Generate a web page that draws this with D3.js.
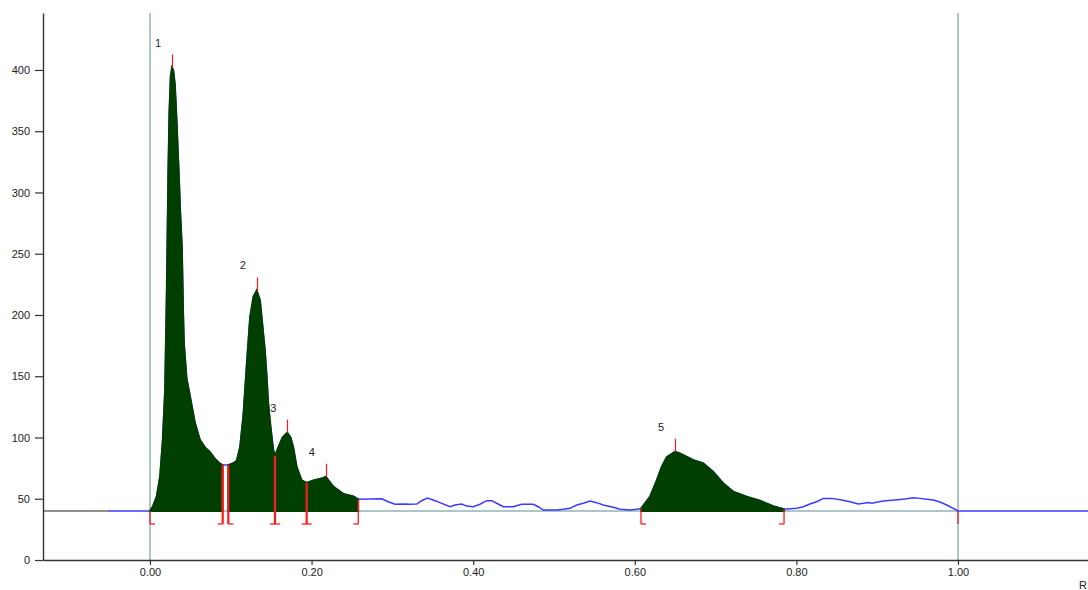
<!DOCTYPE html>
<html>
<head>
<meta charset="utf-8">
<script src="https://cdn.jsdelivr.net/npm/d3@7"></script>
<style>
  body { margin: 0; padding: 0; background: #fff; }
  svg { display: block; font-family: "Liberation Sans", Arial, sans-serif; }
</style>
</head>
<body>
<script>
// densitometer trace: Rf position and signal value
const traceRf = [
  -0.052, 0, 0.0037, 0.0083, 0.0124, 0.0157, 0.0186, 0.0207, 0.0226, 0.0239, 0.0256,
  0.0272, 0.0288, 0.0309, 0.0330, 0.0347, 0.0359, 0.0375, 0.0396, 0.0412, 0.0421,
  0.0454, 0.0495, 0.0557, 0.0619, 0.0680, 0.0743, 0.0800, 0.0860, 0.0900, 0.0969,
  0.1031, 0.1073, 0.1114,
  0.1155, 0.1197, 0.1238, 0.1280, 0.1321, 0.1362, 0.1383, 0.1423, 0.1445, 0.1464, 0.1494,
  0.1526, 0.1547, 0.1588, 0.1640, 0.1699, 0.1740, 0.1774, 0.1816, 0.1877, 0.1939,
  0.2021, 0.2145, 0.2175, 0.2269, 0.2392, 0.2516, 0.2578,
  0.2868, 0.2949, 0.3032, 0.3135, 0.3218, 0.3301, 0.3363, 0.3432, 0.3506, 0.3589,
  0.3713, 0.3775, 0.3858, 0.3920, 0.4001, 0.4084, 0.4167, 0.4229, 0.4291, 0.4373,
  0.4496, 0.4600, 0.4744, 0.4806, 0.4868, 0.5033, 0.5115, 0.5198, 0.5281, 0.5363,
  0.5446, 0.5528, 0.5610, 0.5734, 0.5817, 0.5941, 0.6023, 0.6077,
  0.6188, 0.6271, 0.6333, 0.6395, 0.6498, 0.6559, 0.6724, 0.6848, 0.6972, 0.7095,
  0.7219, 0.7385, 0.7550, 0.7714, 0.7847,
  0.8004, 0.8085, 0.8168, 0.8251, 0.8333, 0.8437, 0.8561, 0.8663, 0.8766, 0.8828,
  0.8890, 0.8932, 0.9075, 0.9220, 0.9344, 0.9447, 0.9530, 0.9613, 0.9694, 0.9777,
  0.9860, 0.9942, 1.0, 1.161
];
const traceVal = [
  40, 40, 44, 52, 68, 98, 139, 220, 316, 365, 395,
  402, 400, 388, 359, 332, 313, 284, 255, 200, 177,
  148, 134, 112, 98, 92, 88, 83, 79, 77.5, 77.5,
  79, 81, 92,
  118, 160, 198, 215, 220, 212, 198, 171, 150, 128, 108,
  90, 85, 92, 100, 104, 100, 92, 76, 65, 63,
  65, 67, 68, 60, 54, 52, 49.5,
  50, 47.6, 45.5, 45.7, 45.5, 45.7, 48.4, 50.6, 49, 46.8,
  43.5, 44.9, 45.7, 44, 43.5, 45.5, 48.4, 48.4, 46.3, 43.5,
  43.5, 45.5, 45.5, 43.5, 40.8, 40.8, 41.4, 42.2, 44.9, 46.3,
  48.2, 46.8, 44.9, 43, 41.4, 40.8, 41.4, 42,
  51.7, 65, 76, 84, 88.4, 87, 81.6, 79, 72, 62.6,
  55.8, 51.7, 48.4, 44, 41.4,
  42.2, 43.5, 45.7, 47.6, 50.3, 50.3, 49, 47.6, 45.7, 46.3,
  47, 46.3, 48.2, 49, 49.8, 50.9, 50.3, 49.6, 49, 47.3,
  44.9, 42.2, 40, 40
];

const baseline = 40;

// integrated peak zones [start, end]
const zones = [[0, 0.0900], [0.0969, 0.2578], [0.6077, 0.7847]];

// zone boundary marks: Rf, signal at mark, foot side
const markRf   = [0, 0.0900, 0.0969, 0.1547, 0.1939, 0.2578, 0.6077, 0.7847, 1.0];
const markVal  = [40, 77.5, 77.5, 85, 63, 49.5, 42, 41.4, 40];
const markFoot = ["right", "left", "right", "both", "both", "left", "right", "left", "none"];

// peak apex marks
const peakLabels = ["1", "2", "3", "4", "5"];
const peakRf     = [0.0272, 0.1321, 0.1699, 0.2175, 0.6498];
const peakVal    = [402, 220, 104, 68, 88.4];

const yTicks = [0, 50, 100, 150, 200, 250, 300, 350, 400];
const xTicks = [0, 0.2, 0.4, 0.6, 0.8, 1.0];

const width = 1088, height = 590;

const x = d3.scaleLinear().domain([-0.1324, 1.1609]).range([43, 1088]);
const y = d3.scaleLinear().domain([0, 446.5]).range([560, 13]);

const data = traceRf.map((r, i) => ({ rf: r, v: traceVal[i] }));

const svg = d3.select("body").append("svg")
  .attr("width", width)
  .attr("height", height);

const teal = "#8fb4b4";

// origin / front lines
svg.append("g")
  .selectAll("line")
  .data([0, 1])
  .join("line")
    .attr("x1", d => x(d)).attr("x2", d => x(d))
    .attr("y1", y.range()[1]).attr("y2", y(0))
    .attr("stroke", teal)
    .attr("stroke-width", 1.5);

// baseline
svg.append("line")
  .attr("x1", x(0)).attr("x2", x(1))
  .attr("y1", y(baseline)).attr("y2", y(baseline))
  .attr("stroke", teal)
  .attr("stroke-width", 1.5);

svg.append("line")
  .attr("x1", x.range()[0]).attr("x2", x(traceRf[0]))
  .attr("y1", y(baseline)).attr("y2", y(baseline))
  .attr("stroke", "#222")
  .attr("stroke-width", 1.2);

// trace
const line = d3.line().x(d => x(d.rf)).y(d => y(d.v));
svg.append("path")
  .datum(data)
  .attr("d", line)
  .attr("fill", "none")
  .attr("stroke", "#3b3bff")
  .attr("stroke-width", 1.5);

// filled peak zones
const area = d3.area()
  .x(d => x(d.rf))
  .y0(y(baseline))
  .y1(d => y(d.v));

svg.append("g")
  .selectAll("path")
  .data(zones)
  .join("path")
    .attr("d", z => area(data.filter(d => d.rf >= z[0] - 1e-6 && d.rf <= z[1] + 1e-6)))
    .attr("fill", "#003f00")
    .attr("stroke", "#003f00")
    .attr("stroke-width", 1.8);

// zone boundary marks
const markG = svg.append("g").attr("stroke", "#ff1a1a").attr("fill", "none");
const footLen = 5, dropPx = 13;
markRf.forEach((r, i) => {
  const px = x(r);
  const yb = y(baseline) + dropPx;
  const inner = i > 0 && i < markRf.length - 1 && markFoot[i] !== "none";
  const sw = (markFoot[i] === "both" || (inner && (i === 1 || i === 2))) ? 2.2 : 1.3;
  markG.append("line")
    .attr("x1", px).attr("x2", px)
    .attr("y1", y(markVal[i])).attr("y2", yb)
    .attr("stroke-width", sw);
  const f = markFoot[i];
  if (f === "right" || f === "both")
    markG.append("line").attr("x1", px).attr("x2", px + footLen)
      .attr("y1", yb).attr("y2", yb).attr("stroke-width", 1.3);
  if (f === "left" || f === "both")
    markG.append("line").attr("x1", px - footLen).attr("x2", px)
      .attr("y1", yb).attr("y2", yb).attr("stroke-width", 1.3);
});

// apex ticks and labels
svg.append("g")
  .selectAll("line")
  .data(peakRf)
  .join("line")
    .attr("x1", d => Math.round(x(d)) + 0.5).attr("x2", d => Math.round(x(d)) + 0.5)
    .attr("y1", (d, i) => y(peakVal[i]))
    .attr("y2", (d, i) => y(peakVal[i]) - 13)
    .attr("stroke", "#ff1a1a")
    .attr("stroke-width", 1.2);

svg.append("g")
  .selectAll("text")
  .data(peakLabels)
  .join("text")
    .attr("x", (d, i) => x(peakRf[i]) - 14)
    .attr("y", (d, i) => y(peakVal[i]) - 21)
    .attr("text-anchor", "middle")
    .attr("font-size", 11)
    .attr("fill", "#222")
    .text(d => d);

// axes
const yAxis = d3.axisLeft(y)
  .tickValues(yTicks)
  .tickSize(8)
  .tickSizeOuter(0)
  .tickPadding(5);

const xAxis = d3.axisBottom(x)
  .tickValues(xTicks)
  .tickFormat(d3.format(".2f"))
  .tickSize(5)
  .tickSizeOuter(0)
  .tickPadding(3);

const gy = svg.append("g")
  .attr("transform", `translate(${x.range()[0]},0)`)
  .call(yAxis);

const gx = svg.append("g")
  .attr("transform", `translate(0,${y(0)})`)
  .call(xAxis);

[gx, gy].forEach(g => {
  g.select(".domain").attr("stroke", "#333").attr("stroke-width", 1.4);
  g.selectAll(".tick line").attr("stroke", "#333").attr("stroke-width", 1.2);
  g.selectAll(".tick text")
    .attr("font-family", "'Liberation Sans', Arial, sans-serif")
    .attr("font-size", 11)
    .attr("fill", "#222");
});

svg.append("text")
  .attr("x", 1079)
  .attr("y", 589)
  .attr("font-size", 11)
  .attr("fill", "#222")
  .text("R");
</script>
</body>
</html>
